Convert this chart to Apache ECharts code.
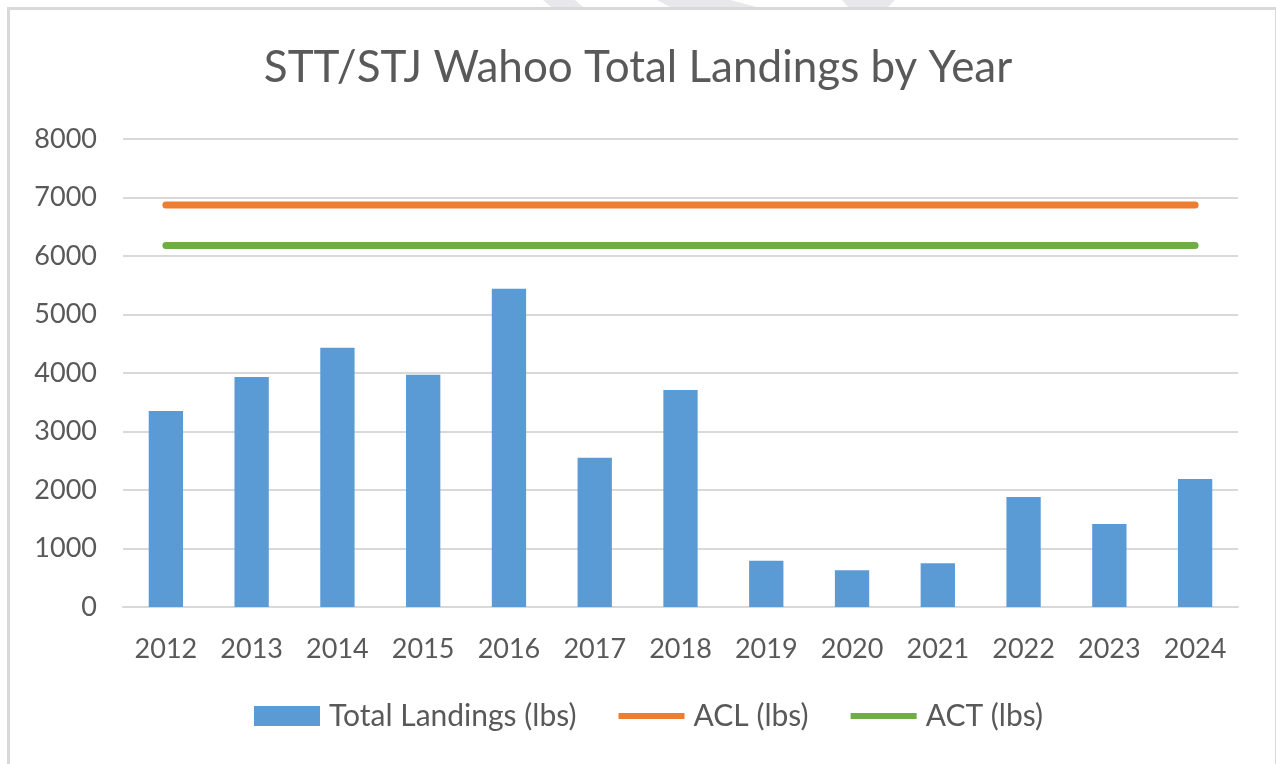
<!DOCTYPE html>
<html>
<head>
<meta charset="utf-8">
<script src="https://cdn.jsdelivr.net/npm/echarts@6/dist/echarts.min.js"></script>
<style>
  html, body { margin:0; padding:0; background:#fff; overflow:hidden; }
  #frame { position:absolute; left:7px; top:7px; width:1269px; height:800px;
           border:0 solid #d9d9d9; border-left-width:3px; border-top-width:3px; border-right-width:1px;
           box-sizing:border-box; }
  #chart { position:absolute; left:0; top:0; width:1276px; height:764px; }
</style>
</head>
<body>
<div id="frame"></div>
<div id="chart"></div>
<script>
// data
const years = ['2012','2013','2014','2015','2016','2017','2018','2019','2020','2021','2022','2023','2024'];
const landings = [3350, 3930, 4430, 3970, 5440, 2550, 3710, 790, 630, 750, 1880, 1420, 2190];
const aclValue = 6870;
const actValue = 6180;
const acl = years.map(() => aclValue);
const act = years.map(() => actValue);

const font = 'Lato, "Open Sans", sans-serif';
const grey = '#595959';
// flat line icon for the legend (invisible points keep the box 20px tall)
const lineIcon = 'path://M0,0L0.01,0M0,7L66,7L66,13L0,13ZM0,20L0.01,20';

// faint shapes peeking over the frame top
const marks = [
  [[543,0],[575,0],[583,7],[551,7]],
  [[657,0],[730,0],[757,7],[670,7]],
  [[842,0],[895,0],[888,7],[848,7]]
];

const chart = echarts.init(document.getElementById('chart'));
chart.setOption({
  animation: false,
  graphic: marks.map(p => ({ type: 'polygon', shape: { points: p }, style: { fill: '#e8e8ec' } })),
  title: {
    text: 'STT/STJ Wahoo Total Landings by Year',
    left: 'center', top: 41,
    textStyle: { fontFamily: font, fontWeight: 'normal', fontSize: 44, color: grey }
  },
  grid: { left: 123, right: 38, top: 139, bottom: 157 },
  legend: {
    bottom: 28, left: 249,
    itemWidth: 66, itemHeight: 20, itemGap: 42,
    textStyle: { fontFamily: font, fontSize: 30, color: grey, padding: [0, 0, 0, 4] },
    data: [
      { name: 'Total Landings (lbs)', icon: 'rect' },
      { name: 'ACL (lbs)', icon: lineIcon },
      { name: 'ACT (lbs)', icon: lineIcon }
    ]
  },
  xAxis: {
    type: 'category', data: years,
    axisLine: { lineStyle: { color: '#d9d9d9', width: 2 } },
    axisTick: { show: false },
    axisLabel: { fontFamily: font, fontSize: 27, color: grey, margin: 29 }
  },
  yAxis: {
    type: 'value', min: 0, max: 8000, interval: 1000,
    axisLine: { show: false }, axisTick: { show: false },
    splitLine: { lineStyle: { color: '#d9d9d9', width: 2 } },
    axisLabel: { fontFamily: font, fontSize: 27, color: grey, margin: 26, formatter: v => String(v) }
  },
  series: [
    { name: 'Total Landings (lbs)', type: 'bar', data: landings, barWidth: '40%',
      itemStyle: { color: '#5b9bd5' } },
    { name: 'ACL (lbs)', type: 'line', data: acl, symbol: 'none',
      lineStyle: { color: '#ed7d31', width: 7, cap: 'round' }, itemStyle: { color: '#ed7d31' } },
    { name: 'ACT (lbs)', type: 'line', data: act, symbol: 'none',
      lineStyle: { color: '#70ad47', width: 7, cap: 'round' }, itemStyle: { color: '#70ad47' } }
  ]
});
</script>
</body>
</html>
